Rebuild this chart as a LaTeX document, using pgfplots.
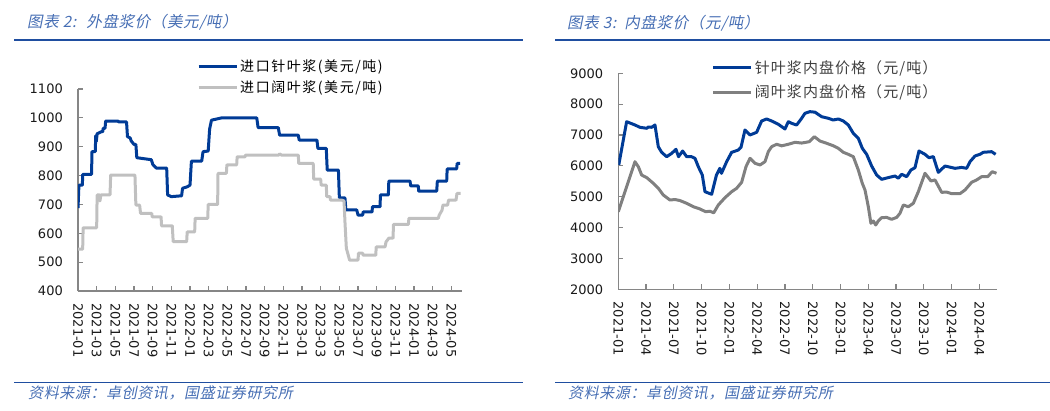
\documentclass[border=0pt]{standalone}
\usepackage{pgfplots}
\pgfplotsset{compat=1.18}
\usepackage{fontspec}
\setmainfont{DejaVu Sans}
\newfontfamily\cjkl[LetterSpace=11]{Noto Sans CJK SC}
\newfontfamily\cjkr[LetterSpace=7]{Noto Sans CJK SC}
\newfontfamily\cjkit[FakeSlant=0.2, LetterSpace=4]{Noto Sans CJK SC}
\definecolor{hdrblue}{RGB}{31,78,160}
\definecolor{hdrtext}{RGB}{70,110,180}
\definecolor{axisgray}{RGB}{134,134,134}
\definecolor{pulpblue}{RGB}{0,59,150}
\definecolor{lightgray}{RGB}{192,192,192}
\definecolor{midgray}{RGB}{128,128,128}

\pgfplotsset{
  pulp/.style={
    scale only axis,
    axis lines=left,
    axis line style={-, draw=axisgray, line width=1.2pt},
    tick align=inside,
    major tick length=5pt,
    tick style={draw=axisgray, line width=1.2pt},
    xmin=0,
    tick label style={font=\fontsize{13}{15}\selectfont, text=black!90},
    /pgf/number format/assume math mode=true,
    /pgf/number format/1000 sep={},
    yticklabel style={anchor=east, inner sep=0pt},
    yticklabel shift=15pt,
    xticklabel style={rotate=-90, anchor=west, inner sep=0pt},
    xticklabel shift=12pt,
    every axis plot/.append style={line width=3pt, line join=round, no marks},
    legend style={draw=none, fill=none, inner sep=0pt,
      nodes={inner sep=2pt}},
    legend cell align=left,
    legend image code/.code={\draw[##1, line width=3pt] (0pt,0pt) -- (38pt,0pt);},
  }
}

\begin{document}
\begin{tikzpicture}

% left: import pulp, USD/t
\begin{axis}[pulp,
  at={(78pt,-291pt)}, anchor=south west,
  width=384pt, height=202pt,
  xmax=41.14, ymin=400, ymax=1100,
  ytick={400,500,...,1100},
  xtick={0,2,...,40},
  xticklabels={2021-01,2021-03,2021-05,2021-07,2021-09,2021-11,2022-01,2022-03,2022-05,2022-07,2022-09,2022-11,2023-01,2023-03,2023-05,2023-07,2023-09,2023-11,2024-01,2024-03,2024-05},
  legend style={at={(0.31,1.156)}, anchor=north west,
    font=\fontsize{14}{16}\cjkl, text=black, row sep=4pt},
]
\addplot[pulpblue] coordinates {
 (0.0,687)(0.1,767)(0.47,767)(0.5,804)(1.45,804)(1.5,883)(1.85,883)(1.9,938)
 (1.96,918)(2.05,945)(2.5,952)(2.65,952)(2.7,964)(2.9,964)(2.96,989)(4.3,989)
 (4.35,986)(5.2,986)(5.3,935)(5.6,930)(5.7,920)(6.0,908)(6.2,908)(6.3,862)
 (7.85,855)(8.0,840)(8.07,836)(8.4,826)(9.5,826)(9.6,733)(10.0,727)(11.1,730)
 (11.2,756)(11.7,761)(12.0,767)(12.15,850)(13.25,850)(13.4,883)(13.95,885)
 (14.1,961)(14.3,992)(15.4,1000)(19.15,1000)(19.3,966)(21.46,966)(21.6,940)
 (23.6,940)(23.7,923)(25.6,923)(25.7,894)(26.6,894)(26.7,819)(27.9,819)
 (28.0,723)(28.6,723)(28.7,681)(29.86,681)(30.0,663)(30.5,663)(30.55,674)
 (31.5,674)(31.55,692)(32.36,692)(32.4,733)(33.25,733)(33.3,781)(35.57,781)
 (35.65,764)(36.46,764)(36.5,746)(38.43,746)(38.5,781)(39.5,781)(39.55,823)
 (40.57,823)(40.62,842)(40.93,842)
};
\addlegendentry{进口针叶浆(美元/吨)}
\addplot[lightgray] coordinates {
 (0.0,545)(0.5,545)(0.55,619)(2.0,619)(2.05,733)(2.3,733)(2.35,712)(2.45,733)
 (3.43,733)(3.5,802)(6.1,802)(6.2,698)(6.6,698)(6.7,669)(7.9,669)(7.95,657)
 (8.9,657)(8.95,626)(10.1,626)(10.2,571)(11.64,571)(11.7,605)(12.5,605)
 (12.55,652)(13.9,652)(13.95,700)(14.96,700)(15.0,808)(15.9,808)(15.95,837)
 (17.0,837)(17.05,865)(17.9,865)(17.95,871)(21.5,871)(21.6,875)(21.8,871)
 (23.6,871)(23.65,842)(25.2,842)(25.25,788)(26.0,788)(26.05,767)(26.6,767)
 (26.65,727)(27.0,727)(27.05,715)(28.25,715)(28.5,712)(28.6,640)(28.75,548)
 (29.1,507)(30.0,507)(30.05,531)(30.5,531)(30.55,524)(31.9,524)(31.95,553)
 (32.9,553)(33.0,570)(33.3,583)(33.75,583)(33.8,631)(35.4,631)(35.45,652)
 (38.6,652)(38.7,663)(39.0,680)(39.1,698)(39.6,698)(39.7,715)(40.5,715)
 (40.6,738)(41.0,738)
};
\addlegendentry{进口阔叶浆(美元/吨)}
\end{axis}

% right: domestic pulp, CNY/t
\begin{axis}[pulp,
  at={(618.3pt,-289.3pt)}, anchor=south west,
  width=379pt, height=216pt,
  xmax=40.93, ymin=2000, ymax=9000,
  ytick={2000,3000,...,9000},
  xtick={0,3,...,39},
  xticklabels={2021-01,2021-04,2021-07,2021-10,2022-01,2022-04,2022-07,2022-10,2023-01,2023-04,2023-07,2023-10,2024-01,2024-04},
  legend style={at={(0.2464,1.069)}, anchor=north west,
    font=\fontsize{15}{17}\cjkr, text=black!75, row sep=6pt},
]
\addplot[pulpblue] coordinates {
 (0.05,6029)(0.9,7432)(1.8,7325)(2.34,7250)(3.07,7218)(3.25,7260)(3.6,7250)
 (3.96,7325)(4.32,6622)(4.68,6440)(5.22,6298)(5.76,6405)(6.23,6537)(6.5,6298)
 (6.95,6482)(7.38,6298)(7.9,6298)(8.28,6245)(8.64,5974)(9.07,5704)(9.36,5163)
 (10.08,5079)(10.6,5704)(10.96,5921)(11.14,5758)(11.7,6136)(12.24,6440)
 (12.96,6513)(13.25,6600)(13.68,7163)(14.22,7001)(14.94,7088)(15.48,7455)
 (16.02,7520)(16.56,7455)(17.28,7348)(18.0,7196)(18.36,7432)(18.72,7380)
 (19.26,7325)(19.8,7542)(20.16,7704)(20.7,7757)(21.24,7740)(21.96,7594)
 (22.68,7542)(23.2,7487)(23.76,7520)(24.3,7455)(24.84,7325)(25.38,7056)
 (25.92,6894)(26.35,6570)(26.82,6375)(27.36,5996)(27.9,5704)(28.44,5565)
 (29.16,5620)(29.88,5672)(30.24,5600)(30.6,5728)(31.14,5650)(31.6,5866)
 (32.04,5941)(32.47,6482)(33.12,6375)(33.55,6265)(34.02,6300)(34.56,5791)
 (35.28,5996)(36.36,5921)(37.08,5950)(37.62,5921)(37.98,6136)(38.52,6320)
 (39.06,6375)(39.42,6440)(40.32,6460)(40.75,6375)
};
\addlegendentry{针叶浆内盘价格（元/吨）}
\addplot[midgray] coordinates {
 (0,4515)(0.72,5163)(1.8,6136)(2.16,5974)(2.52,5704)(3.07,5620)(3.78,5435)
 (4.32,5273)(4.86,5056)(5.58,4894)(6.12,4910)(6.66,4876)(7.38,4787)(8.1,4677)
 (8.82,4603)(9.43,4515)(9.9,4530)(10.3,4478)(10.8,4732)(11.52,4969)(12.24,5163)
 (12.78,5273)(13.32,5468)(13.79,5974)(14.22,6245)(14.76,6083)(15.3,6029)
 (15.84,6136)(16.2,6460)(16.56,6622)(17.1,6700)(17.64,6650)(18.36,6700)
 (19.08,6764)(19.8,6740)(20.63,6784)(21.17,6946)(21.78,6806)(22.5,6732)
 (23.2,6654)(23.76,6570)(24.3,6440)(24.84,6375)(25.38,6298)(25.92,5866)
 (26.35,5435)(26.64,5218)(27.0,4677)(27.28,4139)(27.54,4213)(27.8,4084)
 (28.07,4213)(28.44,4322)(28.98,4330)(29.52,4268)(30.06,4330)(30.42,4463)
 (30.78,4732)(31.32,4677)(31.86,4787)(32.4,5163)(33.12,5760)(33.77,5510)
 (34.2,5545)(34.92,5143)(35.46,5150)(36.0,5100)(36.9,5100)(37.44,5218)
 (38.16,5468)(38.7,5545)(39.24,5650)(39.9,5650)(40.38,5812)(40.84,5760)
};
\addlegendentry{阔叶浆内盘价格（元/吨）}
\end{axis}

% headers and footers
\node[anchor=west, inner sep=0pt, text=hdrtext] at (27pt,-22.7pt)
  {\fontsize{15.5}{18}\cjkit 图表 2:\hspace{10pt}外盘浆价（美元/吨）};
\node[anchor=west, inner sep=0pt, text=hdrtext] at (567pt,-23pt)
  {\fontsize{15.5}{18}\cjkit 图表 3:\hspace{8pt}内盘浆价（元/吨）};
\draw[hdrblue, line width=2pt] (14pt,-39.5pt) -- (523pt,-39.5pt);
\draw[hdrblue, line width=2pt] (555pt,-39.5pt) -- (1050pt,-39.5pt);
\draw[hdrblue, line width=1.5pt] (14pt,-382.5pt) -- (523pt,-382.5pt);
\draw[hdrblue, line width=1.5pt] (555pt,-382.5pt) -- (1050pt,-382.5pt);
\node[anchor=west, inner sep=0pt, text=hdrtext] at (28pt,-392.7pt)
  {\fontsize{15}{18}\cjkit 资料来源：卓创资讯，国盛证券研究所};
\node[anchor=west, inner sep=0pt, text=hdrtext] at (568pt,-392.7pt)
  {\fontsize{15}{18}\cjkit 资料来源：卓创资讯，国盛证券研究所};

\pgfresetboundingbox
\path[use as bounding box] (0pt,0pt) rectangle (1050pt,-410pt);
\end{tikzpicture}
\end{document}
